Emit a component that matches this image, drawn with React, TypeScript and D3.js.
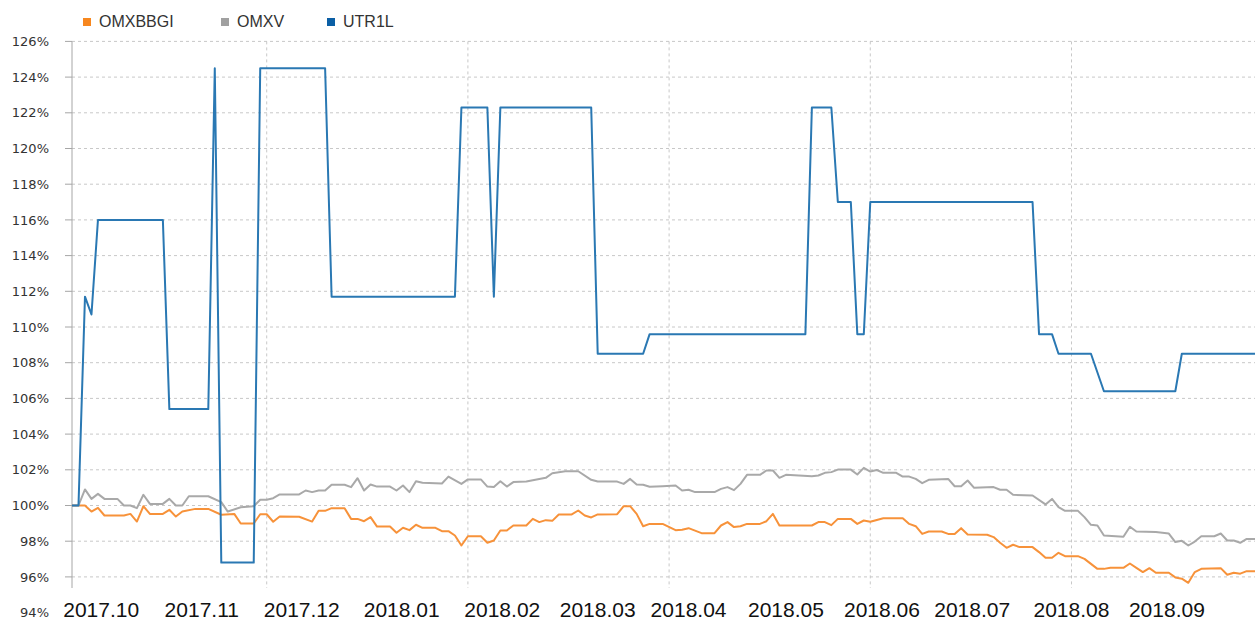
import React, { useRef, useEffect } from 'react';
import * as d3 from 'd3';

// [trading day index, % of start]
const omxbbgi: [number, number][] = [
  [0, 100], [2, 100], [3, 99.66], [4, 99.87], [5, 99.44], [8, 99.44], [9, 99.53], [10, 99.1],
  [11, 99.96], [12, 99.53], [14, 99.53], [15, 99.76], [16, 99.38], [17, 99.66], [19, 99.81],
  [21, 99.81], [23, 99.48], [25, 99.53], [26, 98.99], [28, 98.99], [29, 99.51], [30, 99.51],
  [31, 99.09], [32, 99.38], [35, 99.37], [37, 99.1], [38, 99.7], [39, 99.7], [40, 99.85],
  [42, 99.85], [43, 99.25], [44, 99.25], [45, 99.12], [46, 99.35], [47, 98.82], [49, 98.82],
  [50, 98.47], [51, 98.75], [52, 98.62], [53, 98.92], [54, 98.75], [56, 98.75], [57, 98.56],
  [58, 98.56], [59, 98.32], [60, 97.76], [61, 98.28], [63, 98.28], [64, 97.91], [65, 98.04],
  [66, 98.6], [67, 98.6], [68, 98.88], [70, 98.88], [71, 99.25], [72, 99.07], [73, 99.18],
  [74, 99.14], [75, 99.5], [77, 99.5], [78, 99.72], [79, 99.44], [80, 99.33], [81, 99.5],
  [84, 99.51], [85, 99.96], [86, 99.96], [87, 99.53], [88, 98.84], [89, 98.97], [91, 98.97],
  [93, 98.62], [94, 98.64], [95, 98.73], [97, 98.45], [99, 98.45], [100, 98.88], [101, 99.07],
  [102, 98.79], [103, 98.84], [104, 98.97], [106, 98.97], [107, 99.12], [108, 99.53],
  [109, 98.88], [114, 98.88], [115, 99.07], [116, 99.07], [117, 98.9], [118, 99.25],
  [120, 99.25], [121, 98.97], [122, 99.16], [123, 99.09], [125, 99.29], [128, 99.29],
  [129, 98.97], [130, 98.84], [131, 98.41], [132, 98.54], [134, 98.54], [135, 98.41],
  [136, 98.4], [137, 98.73], [138, 98.38], [141, 98.36], [142, 98.23], [143, 97.91],
  [144, 97.63], [145, 97.8], [146, 97.67], [148, 97.67], [149, 97.39], [150, 97.07],
  [151, 97.07], [152, 97.35], [153, 97.16], [155, 97.16], [156, 97.01], [157, 96.73],
  [158, 96.45], [159, 96.45], [160, 96.51], [162, 96.51], [163, 96.75], [164, 96.51],
  [165, 96.27], [166, 96.49], [167, 96.23], [169, 96.23], [170, 95.97], [171, 95.9],
  [172, 95.67], [173, 96.27], [174, 96.45], [177, 96.49], [178, 96.12], [179, 96.23],
  [180, 96.18], [181, 96.32], [183, 96.32],
];

const omxv: [number, number][] = [
  [0, 100], [1, 100], [2, 100.9], [3, 100.37], [4, 100.65], [5, 100.37], [7, 100.37], [8, 100],
  [9, 100], [10, 99.85], [11, 100.6], [12, 100.09], [14, 100.09], [15, 100.37], [16, 100],
  [17, 100], [18, 100.52], [21, 100.52], [23, 100.19], [24, 99.66], [26, 99.9], [28, 99.96],
  [29, 100.32], [30, 100.32], [31, 100.41], [32, 100.62], [35, 100.62], [36, 100.84],
  [37, 100.75], [38, 100.84], [39, 100.84], [40, 101.16], [42, 101.16], [43, 101.03],
  [44, 101.53], [45, 100.84], [46, 101.18], [47, 101.06], [49, 101.06], [50, 100.84],
  [51, 101.12], [52, 100.75], [53, 101.36], [54, 101.27], [57, 101.23], [58, 101.62],
  [60, 101.21], [61, 101.46], [63, 101.46], [64, 101.06], [65, 101.03], [66, 101.36],
  [67, 101.06], [68, 101.31], [70, 101.34], [73, 101.55], [74, 101.81], [76, 101.92],
  [78, 101.92], [80, 101.44], [81, 101.34], [84, 101.34], [85, 101.21], [86, 101.49],
  [87, 101.18], [88, 101.16], [89, 101.05], [91, 101.08], [93, 101.12], [94, 100.84],
  [95, 100.88], [96, 100.75], [99, 100.75], [100, 100.93], [101, 101.03], [102, 100.86],
  [103, 101.21], [104, 101.72], [106, 101.72], [107, 101.96], [108, 101.96], [109, 101.55],
  [110, 101.72], [114, 101.64], [115, 101.68], [116, 101.83], [117, 101.87], [118, 102.01],
  [120, 102.01], [121, 101.74], [122, 102.11], [123, 101.9], [124, 101.99], [125, 101.83],
  [127, 101.83], [128, 101.62], [129, 101.62], [130, 101.49], [131, 101.25], [132, 101.44],
  [135, 101.49], [136, 101.08], [137, 101.08], [138, 101.4], [139, 100.99], [142, 101.03],
  [143, 100.88], [144, 100.88], [145, 100.6], [148, 100.56], [150, 100.06], [151, 100.37],
  [152, 99.91], [153, 99.7], [155, 99.7], [156, 99.35], [157, 98.92], [158, 98.88],
  [159, 98.32], [162, 98.25], [163, 98.81], [164, 98.54], [167, 98.51], [169, 98.43],
  [170, 97.95], [171, 98.02], [172, 97.76], [173, 97.98], [174, 98.28], [176, 98.28],
  [177, 98.43], [178, 98.04], [179, 98.04], [180, 97.91], [181, 98.13], [183, 98.13],
];

const utr1l: [number, number][] = [
  [0, 100], [1, 100], [2, 111.7], [3, 110.7], [4, 116], [14, 116], [15, 105.4], [21, 105.4],
  [22, 124.5], [23, 96.8], [28, 96.8], [29, 124.5], [39, 124.5], [40, 111.7], [59, 111.7],
  [60, 122.3], [64, 122.3], [65, 111.7], [66, 122.3], [80, 122.3], [81, 108.5], [88, 108.5],
  [89, 109.6], [113, 109.6], [114, 122.3], [117, 122.3], [118, 117], [120, 117], [121, 109.6],
  [122, 109.6], [123, 117], [148, 117], [149, 109.6], [151, 109.6], [152, 108.5], [157, 108.5],
  [159, 106.4], [170, 106.4], [171, 108.5], [183, 108.5],
];

const seriesNames = ['OMXBBGI', 'OMXV', 'UTR1L'];
const seriesColors = ['#f7923a', '#a9a9a9', '#2a78b3'];
const legendColors = ['#f7871f', '#a0a0a0', '#0b5fa5'];

const yTicks = [94, 96, 98, 100, 102, 104, 106, 108, 110, 112, 114, 116, 118, 120, 122, 124, 126];
const monthLabels = ['2017.10', '2017.11', '2017.12', '2018.01', '2018.02', '2018.03',
  '2018.04', '2018.05', '2018.06', '2018.07', '2018.08', '2018.09'];
const monthTicks = [4.5, 20, 35.4, 50.8, 66.3, 81, 95, 110, 124.8, 138.7, 154, 168.7];
const gridDays = [30, 61, 92, 123, 154];

function App() {
  const ref = useRef<SVGSVGElement>(null);

  useEffect(() => {
    const svg = d3.select(ref.current);
    svg.selectAll('*').remove();

    const left = 72;
    const top = 41.4;
    const bottom = 588;

    const x = d3.scaleLinear().domain([0, 183]).range([left, 1259.7]);
    const y = d3.scaleLinear().domain([94, 126]).range([612.6, top]);

    // horizontal grid
    svg.append('g')
      .selectAll('line')
      .data(yTicks.filter((d) => d >= 96))
      .enter().append('line')
      .attr('x1', left).attr('x2', 1255)
      .attr('y1', (d) => y(d)).attr('y2', (d) => y(d))
      .attr('stroke', '#c8c8c8')
      .attr('stroke-dasharray', '3,3');

    // vertical grid
    svg.append('g')
      .selectAll('line')
      .data(gridDays)
      .enter().append('line')
      .attr('x1', (d) => x(d)).attr('x2', (d) => x(d))
      .attr('y1', top).attr('y2', bottom)
      .attr('stroke', '#c8c8c8')
      .attr('stroke-dasharray', '3,3');

    // y axis
    const yAxis = svg.append('g');
    yAxis.append('line')
      .attr('x1', left).attr('x2', left)
      .attr('y1', top).attr('y2', bottom)
      .attr('stroke', '#a6a6a6');
    yAxis.selectAll('.tick')
      .data(yTicks.filter((d) => d >= 96))
      .enter().append('line')
      .attr('x1', left - 7).attr('x2', left)
      .attr('y1', (d) => y(d)).attr('y2', (d) => y(d))
      .attr('stroke', '#a6a6a6');
    yAxis.selectAll('text')
      .data(yTicks)
      .enter().append('text')
      .attr('x', 49)
      .attr('y', (d) => y(d))
      .attr('dy', '0.36em')
      .attr('text-anchor', 'end')
      .attr('font-family', 'DejaVu Sans, sans-serif')
      .attr('font-size', 13)
      .attr('fill', '#333')
      .text((d) => `${d}%`);

    // x labels
    svg.append('g')
      .selectAll('text')
      .data(monthLabels)
      .enter().append('text')
      .attr('x', (d, i) => x(monthTicks[i]))
      .attr('y', 617)
      .attr('text-anchor', 'middle')
      .attr('font-family', 'Liberation Sans, Arial, sans-serif')
      .attr('font-size', 21)
      .attr('fill', '#111')
      .text((d) => d);

    // lines
    const line = d3.line<[number, number]>()
      .x((d) => x(d[0]))
      .y((d) => y(d[1]));

    [omxbbgi, omxv, utr1l].forEach((data, i) => {
      svg.append('path')
        .datum(data)
        .attr('fill', 'none')
        .attr('stroke', seriesColors[i])
        .attr('stroke-width', 2)
        .attr('stroke-linejoin', 'round')
        .attr('d', line);
    });

    // legend
    const legendX = [83, 221, 327];
    const legend = svg.append('g');
    seriesNames.forEach((name, i) => {
      legend.append('rect')
        .attr('x', legendX[i]).attr('y', 18)
        .attr('width', 8).attr('height', 8)
        .attr('fill', legendColors[i]);
      legend.append('text')
        .attr('x', legendX[i] + 16)
        .attr('y', 27)
        .attr('font-family', 'Liberation Sans, Arial, sans-serif')
        .attr('font-size', 16)
        .attr('fill', '#333')
        .text(name);
    });
  }, []);

  return (
    <svg
      ref={ref}
      width={1255}
      height={619}
      style={{ position: 'absolute', left: 0, top: 0, background: '#fff' }}
    />
  );
}

export default App;
